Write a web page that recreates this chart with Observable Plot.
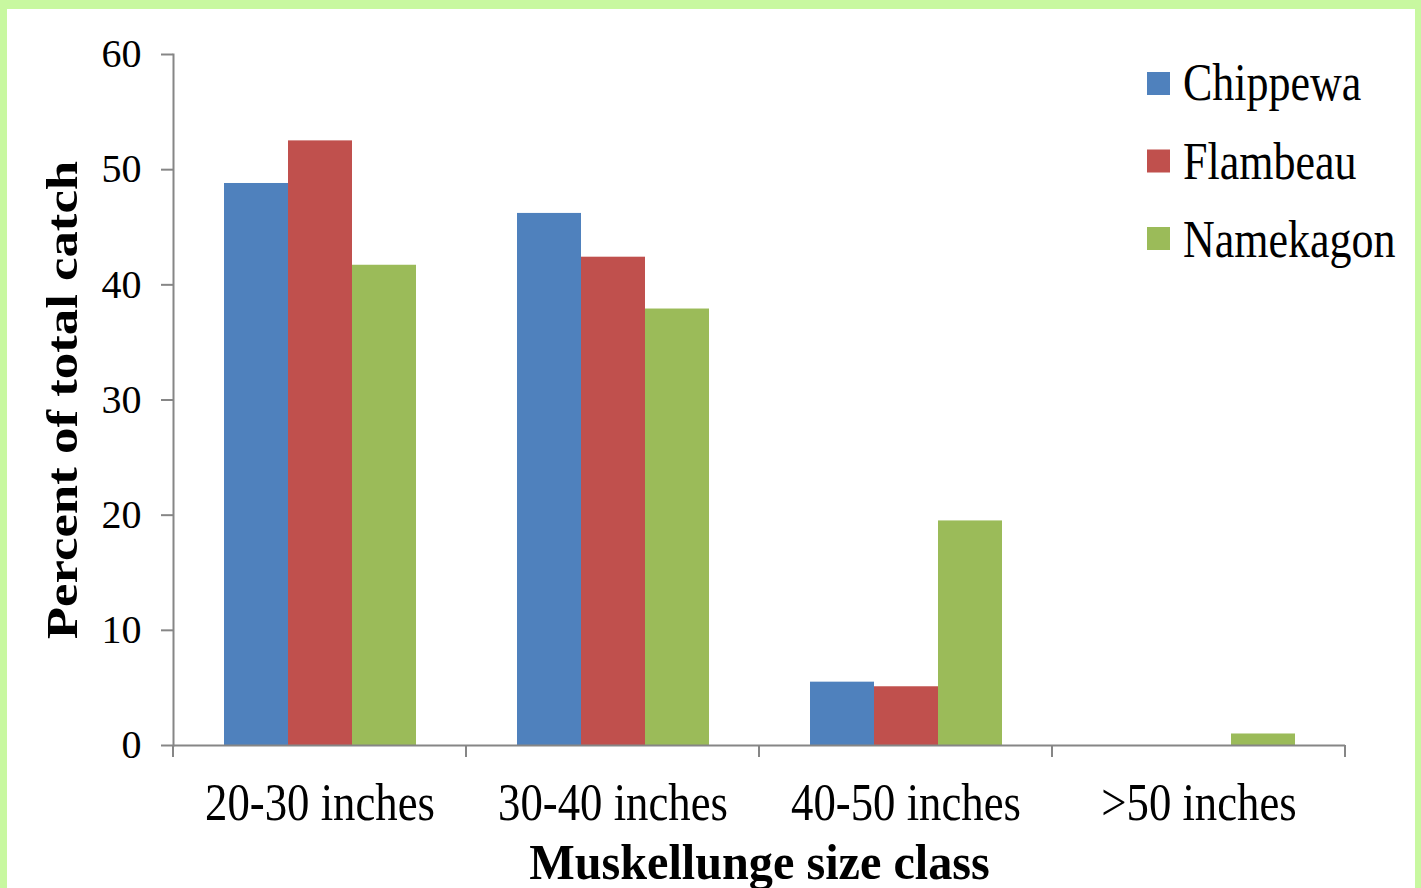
<!DOCTYPE html>
<html><head><meta charset="utf-8">
<script src="https://cdn.jsdelivr.net/npm/d3@7"></script>
<script src="https://cdn.jsdelivr.net/npm/@observablehq/plot@0.6"></script>
<style>
html,body{margin:0;padding:0;background:#fff;}
#frame{position:relative;width:1421px;height:888px;background:#c8f8a0;overflow:hidden;}
#inner{position:absolute;left:7px;top:9px;right:6px;bottom:-10px;background:#fff;}
#chart{position:absolute;left:0;top:0;}
#legend{position:absolute;left:0;top:0;pointer-events:none;}
</style></head><body>
<div id="frame"><div id="inner"></div><div id="chart"></div><svg id="legend" width="1421" height="888"></svg></div>
<script>
const categories = ["20-30 inches", "30-40 inches", "40-50 inches", ">50 inches"];
const series = ["Chippewa", "Flambeau", "Namekagon"];
const chippewa = [48.8, 46.2, 5.5, 0];
const flambeau = [52.5, 42.4, 5.1, 0];
const namekagon = [41.7, 37.9, 19.5, 1.0];
const colors = ["#4f81bd", "#c0504d", "#9bbb59"];
const yTicks = [0, 10, 20, 30, 40, 50, 60];
const xTitle = "Muskellunge size class";
const yTitle = "Percent of total catch";

const valuesBySeries = [chippewa, flambeau, namekagon];
const data = categories.flatMap((c, i) => series.map((s, j) => ({cat: c, series: s, value: valuesBySeries[j][i]})));

const FONT = "'Liberation Serif', 'Times New Roman', serif";
const AXIS = "#868686";

const plot = Plot.plot({
  width: 1421, height: 888,
  marginLeft: 173, marginRight: 76, marginTop: 54, marginBottom: 143,
  style: {background: "transparent", fontFamily: FONT, color: AXIS, overflow: "visible"},
  fx: {domain: categories, padding: 0, axis: "bottom", tickSize: 0, tickPadding: 38,
       label: xTitle, labelAnchor: "center", labelOffset: 133},
  x: {domain: series, axis: null, paddingInner: 0, paddingOuter: 0.754},
  y: {domain: [0, 60], ticks: yTicks, tickSize: 12, tickPadding: 20, line: true,
      label: yTitle, labelAnchor: "center", labelOffset: 128, labelArrow: "none"},
  color: {domain: series, range: colors},
  marks: [
    Plot.barY(data, {fx: "cat", x: "series", y: "value", fill: "series"}),
    Plot.ruleY([0], {stroke: AXIS, strokeWidth: 2})
  ]
});
document.getElementById("chart").appendChild(plot);

const svg = d3.select(plot);
svg.selectAll("text").attr("fill", "#000").style("fill", "#000");
svg.selectAll("path, line").filter(function(){ return this.getAttribute("stroke") === "currentColor" || this.closest("[aria-label*='axis']"); })
   .attr("stroke-width", 2);

function fit(sel, ratio){
  sel.each(function(){
    const n = this.getComputedTextLength();
    this.setAttribute("textLength", n * ratio);
    this.setAttribute("lengthAdjust", "spacingAndGlyphs");
  });
}
const fxTicks = svg.selectAll("[aria-label='fx-axis tick label'] text");
fxTicks.style("font-size", "52px");
fit(fxTicks, 0.86);
const yTickLabels = svg.selectAll("[aria-label='y-axis tick label'] text");
yTickLabels.style("font-size", "40px");
const fxLabel = svg.selectAll("[aria-label='fx-axis label'] text");
fxLabel.style("font-size", "51px").style("font-weight", "bold");
fit(fxLabel, 0.945);
const yLabel = svg.selectAll("[aria-label='y-axis label'] text");
yLabel.style("font-size", "44px").style("font-weight", "bold");
fit(yLabel, 1.2);

// category boundary ticks on the x axis, from the fx scale
const fx = plot.scale("fx");
const y = plot.scale("y");
const bw = fx.bandwidth;
const bounds = categories.map(c => fx.apply(c)).concat([fx.apply(categories[categories.length - 1]) + bw]);
const y0 = y.apply(0);
svg.append("g").attr("aria-label", "x boundary ticks")
  .selectAll("line").data(bounds).join("line")
  .attr("x1", d => d).attr("x2", d => d).attr("y1", y0).attr("y2", y0 + 12)
  .attr("stroke", AXIS).attr("stroke-width", 2);

// legend
const leg = d3.select("#legend");
series.forEach((s, i) => {
  leg.append("rect").attr("x", 1147).attr("y", 72 + i * 77.5).attr("width", 23).attr("height", 23).attr("fill", colors[i]);
  leg.append("text")
    .attr("transform", `translate(1183,${100 + i * 78.5}) scale(1,1.18)`)
    .style("font-family", FONT).style("font-size", "44px").attr("fill", "#000").text(s);
});
</script>
</body></html>
